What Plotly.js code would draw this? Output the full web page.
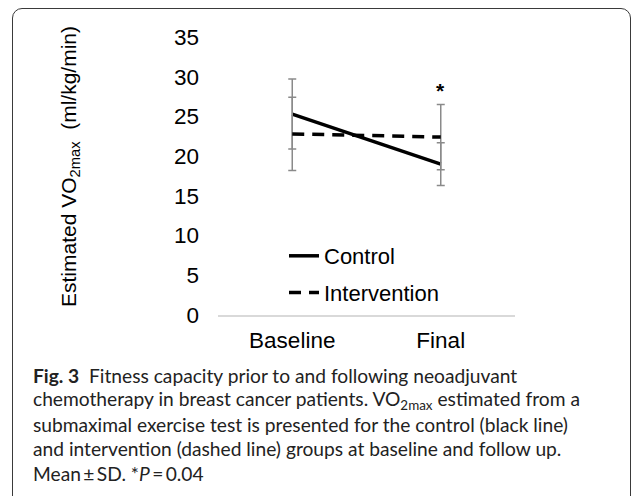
<!DOCTYPE html>
<html>
<head>
<meta charset="utf-8">
<script src="https://cdn.plot.ly/plotly-3.0.1.min.js"></script>
<style>
  html, body { margin: 0; padding: 0; background: #fff; }
  #wrap { position: relative; width: 637px; height: 496px; overflow: hidden; }
  #frame { position: absolute; left: 12px; top: 8px; width: 619px; height: 520px;
           border: 1px solid #3a3a3a; border-radius: 10px; box-sizing: border-box; }
  #chart { position: absolute; left: 0; top: 0; width: 637px; height: 496px; }
</style>
</head>
<body>
<div id="wrap">
  <div id="frame"></div>
  <div id="chart"></div>
</div>
<script>
// ---- data ----
const timepoints = ["Baseline", "Final"];
const controlMean = [25.3, 19.0];
const controlSD = [4.4, 2.7];
const interventionMean = [22.8, 22.4];
const interventionSD = [4.6, 4.1];
const yTicks = [0, 5, 10, 15, 20, 25, 30, 35];
const sigLabel = "*";
const sigPoint = "Final";
const sigY = 28.3;
const yTitle = "Estimated VO<sub>2max</sub>\u00a0 (ml/kg/min)";

const captionLines = [
  "<b>Fig. 3</b>\u00a0\u00a0Fitness capacity prior to and following neoadjuvant",
  "chemotherapy in breast cancer patients. VO<sub>2max</sub> estimated from a",
  "submaximal exercise test is presented for the control (black line)",
  "and intervention (dashed line) groups at baseline and follow up.",
  "Mean\u2009\u00b1\u2009SD. *<i>P</i>\u2009=\u20090.04"
];

const errColor = "#8a8a8a";
const traces = [
  {
    x: timepoints, y: controlMean, name: "Control", type: "scatter", mode: "lines",
    legendgroup: "a",
    line: { color: "#000", width: 3.5 },
    error_y: { type: "data", array: controlSD, visible: true, color: errColor, thickness: 1.5, width: 4 }
  },
  {
    x: timepoints, y: interventionMean, name: "Intervention", type: "scatter", mode: "lines",
    legendgroup: "b",
    line: { color: "#000", width: 3.5, dash: "12px,8px" },
    error_y: { type: "data", array: interventionSD, visible: true, color: errColor, thickness: 1.5, width: 4 }
  }
];

const W = 637, H = 496, ml = 218, mr = 122, mt = 37, mb = 181;
const px2x = px => (px - ml) / (W - ml - mr);
const px2y = py => (H - mb - py) / (H - mt - mb);

const annotations = [
  { x: sigPoint, y: sigY, xref: "x", yref: "y", text: "<b>" + sigLabel + "</b>", showarrow: false,
    font: { family: "Liberation Sans, Arial, sans-serif", size: 21, color: "#000" } },
  { x: px2x(70), y: px2y(167), xref: "paper", yref: "paper", text: yTitle, showarrow: false,
    textangle: -90, xanchor: "center", yanchor: "middle",
    font: { family: "Liberation Sans, Arial, sans-serif", size: 21, color: "#000" } }
];
const capTop = 375, capStep = 24.6;
captionLines.forEach((t, i) => {
  annotations.push({
    x: px2x(31), y: px2y(capTop + i * capStep), xref: "paper", yref: "paper",
    text: t, showarrow: false, xanchor: "left", yanchor: "middle", align: "left",
    font: { family: "Lato, sans-serif", size: 19.2, color: "#222" }
  });
});

const layout = {
  width: W, height: H,
  margin: { l: ml, r: mr, t: mt, b: mb, pad: 0 },
  paper_bgcolor: "rgba(0,0,0,0)",
  plot_bgcolor: "rgba(0,0,0,0)",
  font: { family: "Liberation Sans, Arial, sans-serif", size: 22, color: "#000" },
  showlegend: true,
  legend: {
    x: px2x(284), y: px2y(235),
    xanchor: "left", yanchor: "top",
    font: { size: 22, color: "#000" },
    traceorder: "grouped", tracegroupgap: 5,
    bgcolor: "rgba(0,0,0,0)", borderwidth: 0
  },
  xaxis: {
    type: "category", range: [-0.5, 1.5],
    showgrid: false, zeroline: false,
    showline: true, linecolor: "#d9d9d9", linewidth: 1.5,
    ticks: "", ticklabelstandoff: 4,
    tickfont: { size: 22.5, color: "#000" }
  },
  yaxis: {
    range: [0, 35], tickvals: yTicks, ticktext: yTicks.map(String),
    showgrid: false, zeroline: false, showline: false,
    ticks: "", ticklabelstandoff: 18,
    tickfont: { size: 22.5, color: "#000" }
  },
  annotations: annotations
};

Plotly.newPlot("chart", traces, layout, { staticPlot: true, displayModeBar: false });
</script>
</body>
</html>
